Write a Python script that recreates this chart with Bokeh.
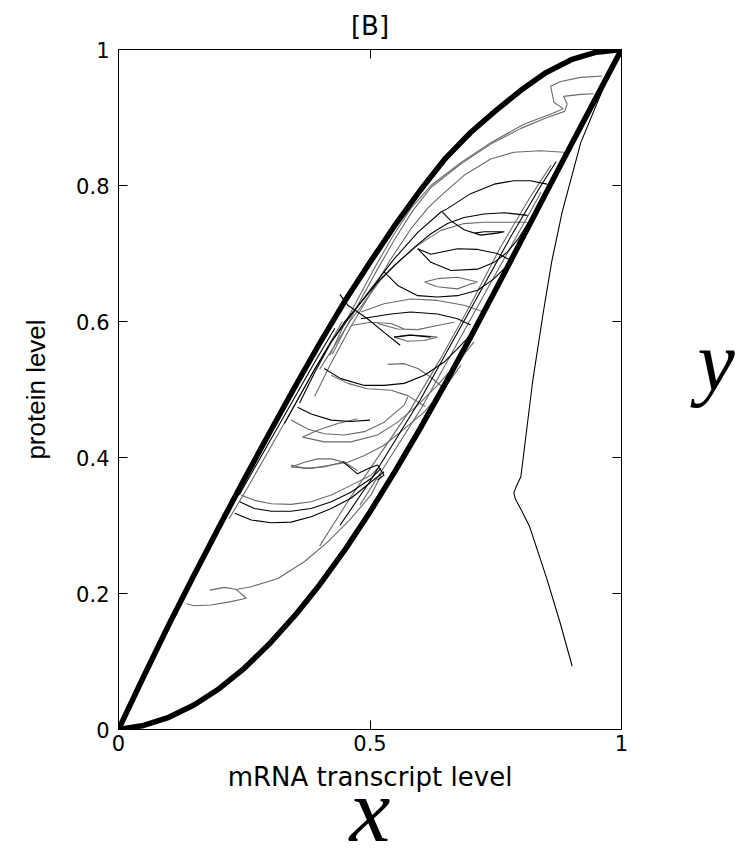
from bokeh.plotting import figure
from bokeh.models import Range1d, FixedTicker, LinearAxis
from bokeh.embed import file_html
from bokeh.resources import INLINE

# ---------------- data ----------------
title_text = "[B]"
x_label = "mRNA transcript level"
y_label = "protein level"
x_var = "x"
y_var = "y"
x_ticks = [0, 0.5, 1]
x_tick_labels = ["0", "0.5", "1"]
y_ticks = [0, 0.2, 0.4, 0.6, 0.8, 1]
y_tick_labels = ["0", "0.2", "0.4", "0.6", "0.8", "1"]

# thick boundary curves
upper_x = [0, 0.05, 0.1, 0.15, 0.2, 0.25, 0.3, 0.35, 0.4, 0.45, 0.5, 0.55, 0.6, 0.65, 0.7, 0.75, 0.8, 0.85, 0.9, 0.95, 1.0]
upper_y = [0, 0.078, 0.154, 0.227, 0.298, 0.368, 0.436, 0.503, 0.568, 0.630, 0.687, 0.742, 0.793, 0.840, 0.878, 0.910, 0.940, 0.966, 0.985, 0.996, 1.0]
lower_x = [0, 0.05, 0.1, 0.15, 0.2, 0.25, 0.3, 0.35, 0.4, 0.45, 0.5, 0.55, 0.6, 0.65, 0.7, 0.75, 0.8, 0.85, 0.9, 0.95, 1.0]
lower_y = [0, 0.006, 0.018, 0.036, 0.060, 0.090, 0.126, 0.167, 0.213, 0.264, 0.320, 0.380, 0.443, 0.509, 0.577, 0.647, 0.718, 0.789, 0.860, 0.930, 1.0]

# separate thin trajectory on the right
right_x = [0.902, 0.878, 0.851, 0.817, 0.800, 0.789, 0.786, 0.790, 0.800, 0.823, 0.844, 0.861, 0.882, 0.919, 0.952, 0.991]
right_y = [0.093, 0.157, 0.223, 0.299, 0.324, 0.339, 0.348, 0.356, 0.372, 0.51, 0.611, 0.687, 0.761, 0.863, 0.922, 0.991]

# thin trajectories between the boundaries
t01_x = [0.962, 0.919, 0.879, 0.859, 0.866, 0.884, 0.866, 0.806, 0.740, 0.681, 0.621, 0.581, 0.545, 0.51, 0.475, 0.445, 0.42]
t01_y = [0.961, 0.959, 0.953, 0.946, 0.922, 0.913, 0.907, 0.890, 0.863, 0.834, 0.800, 0.766, 0.725, 0.68, 0.632, 0.59, 0.55]
t02_x = [0.945, 0.919, 0.885, 0.892, 0.887, 0.852, 0.800, 0.740, 0.681, 0.621, 0.585, 0.55, 0.515, 0.48, 0.45, 0.425]
t02_y = [0.935, 0.934, 0.931, 0.920, 0.909, 0.900, 0.884, 0.861, 0.832, 0.797, 0.763, 0.722, 0.677, 0.63, 0.588, 0.552]
t03_x = [0.886, 0.839, 0.786, 0.740, 0.687, 0.641, 0.614, 0.58, 0.54, 0.50, 0.46, 0.42, 0.39]
t03_y = [0.849, 0.851, 0.849, 0.839, 0.815, 0.785, 0.766, 0.735, 0.69, 0.64, 0.59, 0.535, 0.49]
t04_x = [0.852, 0.819, 0.786, 0.747, 0.700, 0.654, 0.641, 0.595, 0.548, 0.502, 0.462, 0.423, 0.39, 0.36]
t04_y = [0.802, 0.807, 0.807, 0.802, 0.788, 0.766, 0.761, 0.731, 0.692, 0.648, 0.609, 0.570, 0.525, 0.48]
t05_x = [0.813, 0.767, 0.727, 0.687, 0.654, 0.621, 0.588, 0.548, 0.515, 0.482, 0.449, 0.423, 0.39, 0.36, 0.33]
t05_y = [0.756, 0.760, 0.758, 0.753, 0.744, 0.729, 0.709, 0.682, 0.658, 0.628, 0.599, 0.570, 0.53, 0.49, 0.45]
t06_x = [0.644, 0.661, 0.687, 0.720, 0.753, 0.767, 0.727, 0.707]
t06_y = [0.761, 0.748, 0.735, 0.727, 0.730, 0.732, 0.732, 0.730]
t07_x = [0.813, 0.773, 0.727, 0.687, 0.641, 0.595, 0.555, 0.52, 0.49, 0.46, 0.43, 0.40]
t07_y = [0.746, 0.746, 0.746, 0.744, 0.734, 0.712, 0.687, 0.66, 0.63, 0.60, 0.565, 0.53]
t08_x = [0.595, 0.621, 0.661, 0.714, 0.747, 0.773, 0.795, 0.815]
t08_y = [0.707, 0.687, 0.675, 0.677, 0.687, 0.702, 0.722, 0.745]
t09_x = [0.595, 0.621, 0.674, 0.714, 0.753, 0.78]
t09_y = [0.707, 0.699, 0.707, 0.706, 0.700, 0.69]
t10_x = [0.608, 0.634, 0.674, 0.714, 0.700, 0.674, 0.634, 0.608]
t10_y = [0.658, 0.663, 0.665, 0.658, 0.655, 0.648, 0.651, 0.658]
t11_x = [0.528, 0.555, 0.595, 0.634, 0.674, 0.714, 0.745, 0.77]
t11_y = [0.673, 0.653, 0.638, 0.636, 0.638, 0.646, 0.662, 0.68]
t12_x = [0.482, 0.528, 0.581, 0.634, 0.687, 0.727]
t12_y = [0.614, 0.626, 0.633, 0.631, 0.624, 0.614]
t13_x = [0.482, 0.542, 0.581, 0.634, 0.674, 0.70]
t13_y = [0.604, 0.611, 0.614, 0.611, 0.604, 0.595]
t14_x = [0.462, 0.502, 0.542, 0.568]
t14_y = [0.594, 0.599, 0.597, 0.589]
t15_x = [0.548, 0.581, 0.621]
t15_y = [0.577, 0.580, 0.577]
t16_x = [0.44, 0.456, 0.495, 0.528, 0.56]
t16_y = [0.64, 0.624, 0.604, 0.584, 0.565]
t17_x = [0.548, 0.575, 0.608, 0.634, 0.608, 0.575, 0.548]
t17_y = [0.577, 0.580, 0.579, 0.577, 0.572, 0.571, 0.577]
t18_x = [0.515, 0.555, 0.595, 0.634, 0.667]
t18_y = [0.597, 0.589, 0.588, 0.594, 0.599]
t19_x = [0.535, 0.568, 0.595, 0.621, 0.65]
t19_y = [0.537, 0.538, 0.531, 0.518, 0.50]
t20_x = [0.409, 0.442, 0.489, 0.528, 0.568, 0.608, 0.647, 0.674, 0.700]
t20_y = [0.531, 0.516, 0.506, 0.506, 0.509, 0.521, 0.540, 0.560, 0.580]
t21_x = [0.423, 0.456, 0.495, 0.542, 0.575, 0.61]
t21_y = [0.521, 0.509, 0.501, 0.499, 0.491, 0.475]
t22_x = [0.343, 0.376, 0.409, 0.449, 0.489, 0.528, 0.568, 0.575]
t22_y = [0.455, 0.442, 0.435, 0.433, 0.438, 0.452, 0.477, 0.489]
t23_x = [0.356, 0.383, 0.423, 0.462, 0.50]
t23_y = [0.474, 0.464, 0.455, 0.453, 0.455]
t24_x = [0.366, 0.396, 0.436, 0.475]
t24_y = [0.430, 0.440, 0.450, 0.457]
t25_x = [0.366, 0.409, 0.462, 0.515, 0.555, 0.595, 0.634, 0.674, 0.707]
t25_y = [0.430, 0.423, 0.423, 0.433, 0.452, 0.477, 0.506, 0.540, 0.570]
t26_x = [0.343, 0.370, 0.396, 0.423, 0.449, 0.475]
t26_y = [0.386, 0.393, 0.398, 0.398, 0.393, 0.381]
t27_x = [0.343, 0.383, 0.423, 0.456, 0.489, 0.528, 0.568, 0.608, 0.647, 0.681]
t27_y = [0.386, 0.384, 0.389, 0.393, 0.403, 0.418, 0.442, 0.467, 0.501, 0.536]
t28_x = [0.446, 0.462, 0.475, 0.50, 0.515, 0.528, 0.515]
t28_y = [0.394, 0.384, 0.376, 0.385, 0.389, 0.374, 0.367]
t29_x = [0.343, 0.370, 0.409, 0.449]
t29_y = [0.389, 0.384, 0.386, 0.394]
t30_x = [0.244, 0.270, 0.304, 0.343, 0.383, 0.423, 0.462, 0.502, 0.515]
t30_y = [0.345, 0.337, 0.332, 0.331, 0.335, 0.345, 0.359, 0.374, 0.384]
t31_x = [0.241, 0.270, 0.304, 0.343, 0.383, 0.423, 0.462, 0.502, 0.522]
t31_y = [0.335, 0.325, 0.321, 0.321, 0.325, 0.335, 0.349, 0.369, 0.384]
t32_x = [0.231, 0.264, 0.304, 0.343, 0.383, 0.423, 0.462, 0.502, 0.528]
t32_y = [0.318, 0.308, 0.304, 0.305, 0.313, 0.325, 0.340, 0.364, 0.379]
t33_x = [0.522, 0.502, 0.462, 0.416, 0.370, 0.317, 0.264, 0.234]
t33_y = [0.374, 0.345, 0.310, 0.276, 0.247, 0.222, 0.210, 0.206]
t34_x = [0.181, 0.211, 0.234, 0.254, 0.224, 0.184, 0.151, 0.135]
t34_y = [0.205, 0.209, 0.206, 0.193, 0.188, 0.183, 0.182, 0.185]
t35_x = [0.24, 0.29, 0.34, 0.39, 0.43]
t35_y = [0.345, 0.41, 0.475, 0.54, 0.59]
t36_x = [0.22, 0.26, 0.31, 0.36, 0.41, 0.445]
t36_y = [0.31, 0.36, 0.425, 0.49, 0.555, 0.60]
t37_x = [0.44, 0.50, 0.55, 0.60, 0.66, 0.72, 0.78, 0.84, 0.87]
t37_y = [0.30, 0.365, 0.425, 0.485, 0.565, 0.645, 0.725, 0.80, 0.835]
t38_x = [0.40, 0.46, 0.52, 0.58, 0.64, 0.70, 0.76, 0.82, 0.86]
t38_y = [0.27, 0.34, 0.405, 0.47, 0.545, 0.625, 0.71, 0.785, 0.83]
t39_x = [0.48, 0.54, 0.60, 0.66, 0.72, 0.78, 0.84]
t39_y = [0.33, 0.40, 0.47, 0.55, 0.63, 0.71, 0.79]

black_paths = [(t04_x, t04_y), (t05_x, t05_y), (t06_x, t06_y), (t08_x, t08_y), (t09_x, t09_y),
               (t11_x, t11_y), (t13_x, t13_y), (t15_x, t15_y), (t16_x, t16_y), (t20_x, t20_y),
               (t23_x, t23_y), (t28_x, t28_y), (t31_x, t31_y), (t32_x, t32_y), (t35_x, t35_y),
               (t37_x, t37_y), (right_x, right_y)]
gray_paths = [(t01_x, t01_y), (t02_x, t02_y), (t03_x, t03_y), (t07_x, t07_y), (t10_x, t10_y),
              (t12_x, t12_y), (t14_x, t14_y), (t17_x, t17_y), (t18_x, t18_y), (t19_x, t19_y),
              (t21_x, t21_y), (t22_x, t22_y), (t24_x, t24_y), (t25_x, t25_y), (t26_x, t26_y),
              (t27_x, t27_y), (t29_x, t29_y), (t30_x, t30_y), (t33_x, t33_y), (t34_x, t34_y),
              (t36_x, t36_y), (t38_x, t38_y), (t39_x, t39_y)]

# ---------------- figure ----------------
TICK_FONT = "DejaVu Sans"
p = figure(frame_width=503, frame_height=680,
           min_border_left=118, min_border_right=115, min_border_top=48, min_border_bottom=133,
           x_range=Range1d(0, 1), y_range=Range1d(0, 1),
           output_backend="svg", toolbar_location=None, title=title_text)
p.background_fill_color = "white"
p.border_fill_color = "white"
p.grid.visible = False
p.outline_line_color = "black"
p.outline_line_width = 1

p.title.align = "center"
p.title.text_font = TICK_FONT
p.title.text_font_size = "26px"
p.title.text_font_style = "normal"
p.title.text_color = "black"
p.title.standoff = 17

def style_axis(ax, ticks, labels, show_labels=True):
    ax.ticker = FixedTicker(ticks=ticks)
    ax.major_label_overrides = {t: s for t, s in zip(ticks, labels)}
    ax.major_tick_in = 9
    ax.major_tick_out = 0
    ax.minor_tick_line_color = None
    ax.axis_line_color = "black"
    ax.major_tick_line_color = "black"
    ax.major_label_text_font = TICK_FONT
    if show_labels:
        ax.major_label_text_font_size = "21px"
        ax.major_label_text_color = "black"
    else:
        ax.major_label_text_font_size = "0px"
        ax.major_label_text_color = None
        ax.major_label_standoff = 0

style_axis(p.xaxis[0], x_ticks, x_tick_labels)
style_axis(p.yaxis[0], y_ticks, y_tick_labels)
p.xaxis[0].major_label_standoff = 5
p.yaxis[0].major_label_standoff = 9

p.xaxis[0].axis_label = x_label
p.xaxis[0].axis_label_text_font = TICK_FONT
p.xaxis[0].axis_label_text_font_size = "26px"
p.xaxis[0].axis_label_text_font_style = "normal"
p.xaxis[0].axis_label_text_color = "black"
p.xaxis[0].axis_label_standoff = 8

p.yaxis[0].axis_label = y_label
p.yaxis[0].axis_label_text_font = "Liberation Sans"
p.yaxis[0].axis_label_text_font_size = "26px"
p.yaxis[0].axis_label_text_font_style = "normal"
p.yaxis[0].axis_label_text_color = "black"
p.yaxis[0].axis_label_standoff = 22

top_ax = LinearAxis()
style_axis(top_ax, x_ticks, x_tick_labels, show_labels=False)
p.add_layout(top_ax, "above")

# right axis: ticks only, with the big italic "y" as a horizontal axis label
# (an empty second line with a small line height lifts the letter a little)
right_ax = LinearAxis()
style_axis(right_ax, y_ticks, y_tick_labels, show_labels=False)
right_ax.axis_label = y_var + "\n "
right_ax.axis_label_text_font = "Liberation Serif"
right_ax.axis_label_text_font_style = "italic"
right_ax.axis_label_text_font_size = "84px"
right_ax.axis_label_text_line_height = 0.6
right_ax.axis_label_text_color = "black"
right_ax.axis_label_standoff = 76
if "axis_label_orientation" in right_ax.properties():
    right_ax.axis_label_orientation = "horizontal"
p.add_layout(right_ax, "right")

# second bottom axis without ticks, carrying the big italic "x"
var_ax = LinearAxis()
var_ax.ticker = FixedTicker(ticks=[])
var_ax.axis_line_color = None
var_ax.major_tick_line_color = None
var_ax.minor_tick_line_color = None
var_ax.major_label_text_font_size = "0px"
var_ax.major_label_standoff = 0
var_ax.axis_label = x_var
var_ax.axis_label_text_font = "Liberation Serif"
var_ax.axis_label_text_font_style = "italic"
var_ax.axis_label_text_font_size = "92px"
var_ax.axis_label_text_color = "black"
var_ax.axis_label_standoff = -36
p.add_layout(var_ax, "below")

# thin trajectories
p.multi_line([pth[0] for pth in gray_paths], [pth[1] for pth in gray_paths],
             line_color="#6a6a6a", line_width=1.1)
p.multi_line([pth[0] for pth in black_paths], [pth[1] for pth in black_paths],
             line_color="black", line_width=1.1)

# thick boundary curves
p.line(upper_x, upper_y, line_color="black", line_width=5.5, line_join="round", line_cap="round")
p.line(lower_x, lower_y, line_color="black", line_width=5.5, line_join="round", line_cap="round")

open("out.html", "w").write(file_html(p, INLINE))
